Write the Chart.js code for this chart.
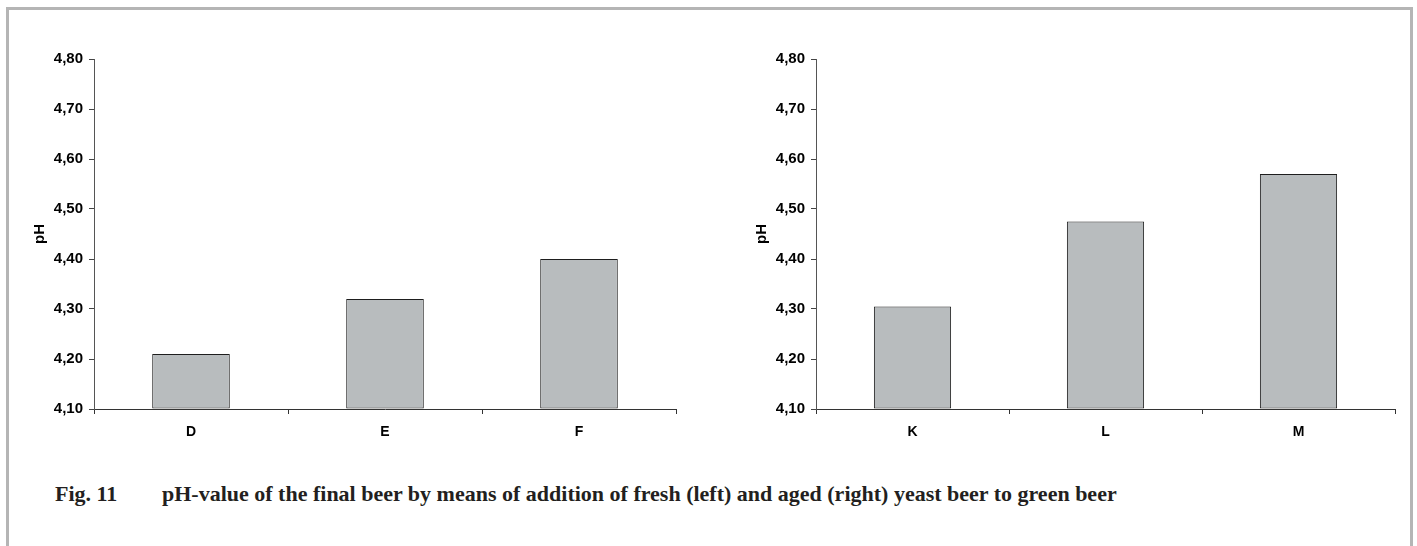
<!DOCTYPE html>
<html>
<head>
<meta charset="utf-8">
<script src="https://cdn.jsdelivr.net/npm/chart.js@4.4.1/dist/chart.umd.min.js"></script>
<style>
  body { margin: 0; background: #fff; width: 1417px; height: 546px; overflow: hidden; position: relative; }
  .frame { position: absolute; left: 6px; top: 7px; width: 1401px; height: 560px; border: 3px solid #b5b5b5; border-bottom: none; }
  canvas { position: absolute; top: 0; }
  #leftChart { left: 0; }
  #rightChart { left: 722px; }
  .caption { position: absolute; top: 483px; font-family: "Liberation Serif", "Times New Roman", serif; font-weight: bold; font-size: 22px; line-height: 22px; color: #231f20; white-space: nowrap; }
</style>
</head>
<body>
<div class="frame"></div>
<canvas id="leftChart" width="700" height="460"></canvas>
<canvas id="rightChart" width="695" height="460"></canvas>
<div class="caption" style="left:55px">Fig. 11</div>
<div class="caption" style="left:162px">pH-value of the final beer by means of addition of fresh (left) and aged (right) yeast beer to green beer</div>

<script>
// fresh yeast beer (left)
const freshLabels = ['D', 'E', 'F'];
const freshPH = [4.21, 4.32, 4.40];

// aged yeast beer (right)
const agedLabels = ['K', 'L', 'M'];
const agedPH = [4.305, 4.475, 4.57];

const yMin = 4.10;
const yMax = 4.80;
const yStep = 0.10;

const fontFam = "'Liberation Sans', Arial, sans-serif";

function makeChart(id, labels, values, rightPad){
  return new Chart(document.getElementById(id), {
    type: 'bar',
    data: {
      labels: labels,
      datasets: [{
        data: values,
        base: yMin,
        backgroundColor: '#b8bcbe',
        borderColor: '#1e1e1e',
        borderWidth: 1,
        borderSkipped: false,
        categoryPercentage: 1,
        barPercentage: 0.4
      }]
    },
    options: {
      responsive: false,
      animation: false,
      devicePixelRatio: 1,
      layout: { padding: { left: 0, right: rightPad, top: 59, bottom: 0 } },
      plugins: { legend: { display: false }, tooltip: { enabled: false } },
      scales: {
        x: {
          offset: true,
          grid: { offset: true, drawOnChartArea: false, drawTicks: true, tickLength: 5, color: '#333' },
          border: { display: true, color: '#333', width: 1 },
          ticks: { color: '#000', font: { family: fontFam, size: 14, weight: 'bold' }, padding: 10 },
          afterFit: function(scale){ scale.height = 51; }
        },
        y: {
          min: yMin,
          max: yMax,
          grid: { drawOnChartArea: false, drawTicks: true, tickLength: 5, color: '#444' },
          border: { display: true, color: '#555', width: 1 },
          ticks: {
            stepSize: yStep,
            color: '#000',
            font: { family: fontFam, size: 15, weight: 'bold' },
            padding: 6,
            callback: function(v){ return Number(v).toFixed(2).replace('.', ','); }
          },
          title: {
            display: true,
            text: 'pH',
            color: '#000',
            font: { family: fontFam, size: 15, weight: 'bold' },
            padding: { top: 31, bottom: 0 }
          },
          afterFit: function(scale){ scale.width = 94; }
        }
      }
    }
  });
}

makeChart('leftChart', freshLabels, freshPH, 24);
makeChart('rightChart', agedLabels, agedPH, 22);
</script>
</body>
</html>
